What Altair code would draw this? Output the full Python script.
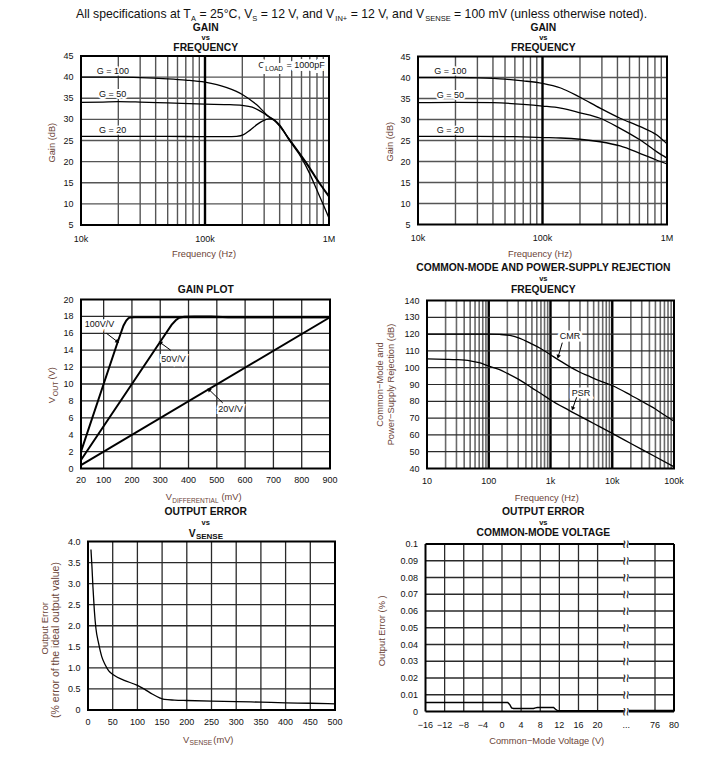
import altair as alt
import pandas as pd

FONT = "Liberation Sans"
M = 8  # page margin
INK = "#111111"
AX_INK = "#6b4438"
GRID = "#555555"
GRID_DARK = "#2a2a2a"

# ---------------- data ----------------
# Gain vs Frequency, C_LOAD = 1000 pF (top-left)
gl_f_g100 = [1e4, 2e4, 3e4, 5e4, 7e4, 1e5, 1.5e5, 2e5, 2.6e5, 3.3e5, 3.6e5, 4e5, 4.8e5, 6e5, 7e5, 8e5, 9e5, 1e6]
gl_db_g100 = [40.0, 40.0, 39.9, 39.6, 39.3, 38.8, 37.5, 35.9, 33.5, 30.6, 29.9, 28.5, 25.3, 21.4, 18.6, 15.9, 13.7, 11.9]
gl_f_g50 = [1e4, 1.5e4, 2e4, 3e4, 5e4, 1e5, 1.5e5, 2e5, 2.4e5, 2.7e5, 3e5, 3.3e5, 3.6e5, 4e5, 4.8e5, 6e5, 7e5, 8e5, 9e5, 1e6]
gl_db_g50 = [34.0, 34.1, 34.2, 34.1, 33.9, 33.6, 33.5, 33.3, 32.9, 32.2, 31.4, 30.5, 29.8, 28.4, 25.1, 21.2, 18.3, 15.6, 13.5, 11.6]
gl_f_g20 = [1e4, 5e4, 1e5, 1.5e5, 1.8e5, 2.05e5, 2.3e5, 2.6e5, 2.9e5, 3.3e5, 3.6e5, 4e5, 4.8e5, 6e5, 7e5, 8e5, 9e5, 1e6]
gl_db_g20 = [26.0, 26.0, 25.9, 25.9, 26.0, 26.4, 27.4, 28.7, 29.6, 30.1, 29.9, 28.7, 25.0, 20.9, 17.1, 13.2, 9.8, 6.6]

# Gain vs Frequency (top-right)
gr_f_g100 = [1e4, 2e4, 3e4, 5e4, 7e4, 1e5, 1.4e5, 2e5, 2.9e5, 4.2e5, 6.1e5, 8.3e5, 1e6]
gr_db_g100 = [40.0, 40.0, 39.9, 39.6, 39.2, 38.6, 37.5, 35.3, 32.7, 30.3, 28.3, 26.3, 24.2]
gr_f_g50 = [1e4, 2e4, 4e4, 7e4, 1e5, 1.4e5, 2e5, 2.9e5, 4.2e5, 6.1e5, 8.3e5, 1e6]
gr_db_g50 = [34.0, 34.1, 34.0, 33.6, 33.2, 32.7, 31.6, 30.3, 27.9, 25.1, 22.3, 20.8]
gr_f_g20 = [1e4, 3e4, 6e4, 1e5, 1.4e5, 2e5, 2.9e5, 4.2e5, 6.1e5, 8.3e5, 1e6]
gr_db_g20 = [26.0, 26.0, 25.9, 25.7, 25.6, 25.3, 24.7, 23.7, 21.9, 20.3, 19.4]

# Gain plot
gp_x_100 = [20, 100, 150, 170, 180, 188, 196, 210, 900]
gp_y_100 = [2.0, 10.0, 15.0, 16.9, 17.5, 17.8, 17.88, 17.9, 17.9]
gp_x_50 = [20, 300, 340, 355, 367, 385, 420, 480, 540, 900]
gp_y_50 = [1.0, 15.0, 17.0, 17.55, 17.85, 17.95, 18.0, 18.0, 17.9, 17.9]
gp_x_20 = [20, 900]
gp_y_20 = [0.4, 17.9]

# Common-mode and power-supply rejection
cmr_f = [10, 20, 50, 100, 150, 220, 320, 470, 680, 1000, 1500, 2000, 3000, 4000, 6000, 1e4, 2e4, 3e4, 5e4, 7e4, 1e5]
cmr_db = [120, 120, 120, 120, 119.8, 119.2, 117.5, 114.6, 111.6, 107.7, 103.6, 100.8, 97.3, 95.3, 92.5, 89.4, 83.6, 80.0, 75.4, 71.8, 68.2]
psr_f = [10, 20, 30, 50, 70, 100, 150, 200, 300, 500, 700, 1000, 2000, 5000, 1e4, 2e4, 5e4, 1e5]
psr_db = [105.2, 105.0, 104.8, 104.1, 103.0, 101.0, 98.8, 96.6, 93.2, 88.0, 84.6, 80.8, 74.6, 66.8, 60.9, 54.9, 47.0, 41.0]

# Output error vs V_SENSE
ev_mv = [6, 8, 10, 12.8, 16, 21.5, 28, 35, 42, 52, 72, 99, 115, 130, 145, 155, 175, 200, 250, 300, 350, 400, 450, 500]
ev_err = [3.81, 3.4, 2.92, 2.37, 1.94, 1.58, 1.26, 1.07, 0.93, 0.83, 0.71, 0.59, 0.49, 0.38, 0.29, 0.25, 0.235, 0.225, 0.21, 0.2, 0.185, 0.17, 0.16, 0.145]

# Output error vs common-mode voltage (axis broken between 20 and 76)
ec_v_a = [-16, 1.2, 1.6, 2.0, 2.4, 6.6, 7.0, 7.4, 10.8, 11.2, 11.6, 20, 45.5]
ec_e_a = [0.0054, 0.0054, 0.0042, 0.0022, 0.0018, 0.0018, 0.0022, 0.0024, 0.0024, 0.0013, 0.0005, 0.0005, 0.0005]
ec_v_b = [50.5, 76, 80]
ec_e_b = [0.0006, 0.0006, 0.0006]

# ticks
freq_ticks = [1e4, 1e5, 1e6]
freq_labels = ["10k", "100k", "1M"]
gain_ticks = [5, 10, 15, 20, 25, 30, 35, 40, 45]
gp_xticks = [20, 100, 200, 300, 400, 500, 600, 700, 800, 900]
gp_yticks = [0, 2, 4, 6, 8, 10, 12, 14, 16, 18, 20]
cm_xticks = [10, 100, 1e3, 1e4, 1e5]
cm_xlabels = ["10", "100", "1k", "10k", "100k"]
cm_yticks = [40, 50, 60, 70, 80, 90, 100, 110, 120, 130, 140]
ev_xticks = [0, 50, 100, 150, 200, 250, 300, 350, 400, 450, 500]
ev_yticks = [0, 0.5, 1.0, 1.5, 2.0, 2.5, 3.0, 3.5, 4.0]
ev_ylabels = ["0", "0.5", "1.0", "1.5", "2.0", "2.5", "3.0", "3.5", "4.0"]
ec_xticks = [-16, -12, -8, -4, 0, 4, 8, 12, 16, 20, 48, 76, 80]
ec_xlabels = ["\u221216", "\u221212", "\u22128", "\u22124", "0", "4", "8", "12", "16", "20", "...", "76", "80"]
ec_yticks = [0, 0.01, 0.02, 0.03, 0.04, 0.05, 0.06, 0.07, 0.08, 0.09, 0.1]
ec_ylabels = ["0", "0.01", "0.02", "0.03", "0.04", "0.05", "0.06", "0.07", "0.08", "0.09", "0.1"]

# header text pieces: (text, is_subscript)
HEADER = [("All specifications at T", False), ("A", True), (" = 25\u00b0C, V", False), ("S", True),
          (" = 12 V, and V", False), ("IN+", True), (" = 12 V, and V", False), ("SENSE", True),
          (" = 100 mV (unless otherwise noted).", False)]

# ---------------- layout (page pixels) ----------------
PANELS = {
    "gl": dict(xtype="log", xdom=[1e4, 1e6], xr=[81, 329], ydom=[5, 45], yr=[225, 56]),
    "gr": dict(xtype="log", xdom=[1e4, 1e6], xr=[418, 667], ydom=[5, 45], yr=[224.5, 56.5]),
    "gp": dict(xtype="linear", xdom=[20, 900], xr=[81, 330], ydom=[0, 20], yr=[468.5, 299.5]),
    "cm": dict(xtype="log", xdom=[10, 1e5], xr=[427, 674], ydom=[40, 140], yr=[468.5, 300.5]),
    "ev": dict(xtype="linear", xdom=[0, 500], xr=[88, 335], ydom=[0, 4], yr=[710, 541.5]),
    "ec": dict(xtype="linear", xdom=[-16, 20, 76, 80], xr=[425.5, 597.6, 655.0, 674], ydom=[0, 0.1], yr=[711.5, 544]),
}

# Arial / Liberation Sans advance widths (1/1000 em) for text layout
AW = {" ": 278, "%": 889, "(": 333, ")": 333, "+": 584, ",": 278, "-": 333, ".": 278, "=": 584,
      "\u00b0": 400, "\u2212": 584}
AW.update({d: 556 for d in "0123456789"})
AW.update(dict(zip("ABCDEFGHIJKLMNOPQRSTUVWXYZ",
                   [667, 667, 722, 722, 667, 611, 778, 722, 278, 500, 667, 556, 833, 722, 778, 667, 778,
                    722, 667, 611, 722, 667, 944, 667, 667, 611])))
AW.update(dict(zip("abcdefghijklmnopqrstuvwxyz",
                   [556, 556, 500, 556, 556, 278, 556, 556, 222, 222, 500, 222, 833, 556, 556, 556, 556,
                    333, 500, 278, 556, 500, 722, 500, 500, 500])))


def tw(s, size):
    return sum(AW.get(c, 556) for c in s) * size / 1000.0


def sx(p):
    d = PANELS[p]
    return alt.Scale(type=d["xtype"], domain=d["xdom"], range=[v - M for v in d["xr"]], nice=False, zero=False)


def sy(p):
    d = PANELS[p]
    return alt.Scale(type="linear", domain=d["ydom"], range=[v - M for v in d["yr"]], nice=False, zero=False)


def ex(p, f="x"):
    return alt.X(f"{f}:Q", scale=sx(p), axis=None)


def ey(p, f="y"):
    return alt.Y(f"{f}:Q", scale=sy(p), axis=None)


layers = []


def vgrid(p, xs, color=GRID, width=1.3):
    d = PANELS[p]
    df = pd.DataFrame({"x": xs, "y0": d["ydom"][0], "y1": d["ydom"][-1]})
    layers.append(alt.Chart(df).mark_rule(color=color, strokeWidth=width).encode(
        x=ex(p), y=ey(p, "y0"), y2="y1:Q"))


def hgrid(p, ys, color=GRID, width=1.3, x0=None, x1=None):
    d = PANELS[p]
    df = pd.DataFrame({"y": ys,
                       "x0": d["xdom"][0] if x0 is None else x0,
                       "x1": d["xdom"][-1] if x1 is None else x1})
    layers.append(alt.Chart(df).mark_rule(color=color, strokeWidth=width).encode(
        y=ey(p), x=ex(p, "x0"), x2="x1:Q"))


def frame(p, width=2.0):
    d = PANELS[p]
    df = pd.DataFrame({"x0": [d["xdom"][0]], "x1": [d["xdom"][-1]],
                       "y0": [d["ydom"][0]], "y1": [d["ydom"][-1]]})
    layers.append(alt.Chart(df).mark_rect(fillOpacity=0, stroke="black", strokeWidth=width).encode(
        x=ex(p, "x0"), x2="x1:Q", y=ey(p, "y0"), y2="y1:Q"))


def curves(p, series, width=1.3, interp="monotone"):
    rows = []
    for name, xs, ys in series:
        for x, y in zip(xs, ys):
            rows.append({"x": x, "y": y, "s": name})
    df = pd.DataFrame(rows)
    layers.append(alt.Chart(df).mark_line(color="black", strokeWidth=width, interpolate=interp).encode(
        x=ex(p), y=ey(p), detail="s:N"))


def xlabels(p, xs, labels, dy=15.5):
    d = PANELS[p]
    df = pd.DataFrame({"x": xs, "y": d["ydom"][0], "t": labels})
    layers.append(alt.Chart(df).mark_text(font=FONT, fontSize=9, color=INK, align="center",
                                          baseline="alphabetic", dy=dy).encode(
        x=ex(p), y=ey(p), text="t:N"))


def ylabels(p, ys, labels, dx=-7.5):
    d = PANELS[p]
    df = pd.DataFrame({"x": d["xdom"][0], "y": ys, "t": labels})
    layers.append(alt.Chart(df).mark_text(font=FONT, fontSize=9, color=INK, align="right",
                                          baseline="middle", dx=dx).encode(
        x=ex(p), y=ey(p), text="t:N"))


def note(p, x, y, text, align="center", size=9, halo=0, baseline="alphabetic", angle=0):
    df = pd.DataFrame({"x": x if isinstance(x, list) else [x],
                       "y": y if isinstance(y, list) else [y]})
    df["t"] = text
    base = alt.Chart(df).encode(x=ex(p), y=ey(p), text="t:N")
    kw = dict(font=FONT, fontSize=size, align=align, baseline=baseline)
    if angle:
        kw["angle"] = angle
    if halo:
        layers.append(base.mark_text(color="white", stroke="white", strokeWidth=halo, **kw))
    layers.append(base.mark_text(color=INK, **kw))


def arrow(p, x0, y0, x1, y1, angle):
    df = pd.DataFrame({"xa": [x0], "ya": [y0], "xb": [x1], "yb": [y1]})
    layers.append(alt.Chart(df).mark_rule(color="black", strokeWidth=1).encode(
        x=ex(p, "xa"), y=ey(p, "ya"), x2="xb:Q", y2="yb:Q"))
    layers.append(alt.Chart(df).mark_point(shape="triangle-up", filled=True, size=20, color="black",
                                           opacity=1, angle=angle).encode(
        x=ex(p, "xb"), y=ey(p, "yb")))


def ptext(text, x, y, size=9, bold=False, align="center", baseline="alphabetic", angle=0,
          color=INK, halo=0):
    df = pd.DataFrame({"t": [text]})
    kw = dict(font=FONT, fontSize=size, align=align, baseline=baseline,
              fontWeight="bold" if bold else "normal")
    if angle:
        kw["angle"] = angle
    enc = dict(x=alt.value(x - M), y=alt.value(y - M), text="t:N")
    if halo:
        layers.append(alt.Chart(df).mark_text(color="white", stroke="white", strokeWidth=halo, **kw).encode(**enc))
    layers.append(alt.Chart(df).mark_text(color=color, **kw).encode(**enc))


def log_minor(decs):
    return [k * 10 ** e for e in decs for k in range(2, 10)]


# ---------------- panel: gain vs frequency ----------------
for p in ["gl", "gr"]:
    vgrid(p, log_minor([4, 5]), GRID, 1.4)
    hgrid(p, [10, 15, 20, 25, 30, 35, 40], GRID, 1.3)
    vgrid(p, [1e5], "black", 2.4)

note("gl", 1.81e4, 40.74, "G = 100", halo=3)
note("gl", 1.8e4, 35.2, "G = 50", halo=4)
note("gl", 1.8e4, 26.85, "G = 20", halo=3)
ptext("C", 258.3, 68.3, align="left", halo=6)
ptext("LOAD", 265.3, 70.7, size=6.5, align="left", halo=6)
ptext("= 1000pF", 286.5, 68.3, align="left", halo=6)
curves("gl", [("G100", gl_f_g100, gl_db_g100), ("G50", gl_f_g50, gl_db_g50), ("G20", gl_f_g20, gl_db_g20)])
frame("gl")
xlabels("gl", freq_ticks, freq_labels, dy=16.5)
ylabels("gl", gain_ticks, [str(v) for v in gain_ticks])

note("gr", 1.82e4, 40.82, "G = 100", halo=3)
note("gr", 1.82e4, 35.02, "G = 50", halo=4)
note("gr", 1.82e4, 26.9, "G = 20", halo=3)
curves("gr", [("G100", gr_f_g100, gr_db_g100), ("G50", gr_f_g50, gr_db_g50), ("G20", gr_f_g20, gr_db_g20)])
frame("gr")
xlabels("gr", freq_ticks, freq_labels, dy=16.5)
ylabels("gr", gain_ticks, [str(v) for v in gain_ticks])

# ---------------- panel: gain plot ----------------
vgrid("gp", [100, 200, 300, 400, 500, 600, 700, 800], GRID_DARK, 1.3)
hgrid("gp", [2, 4, 6, 8, 10, 12, 14, 16, 18], GRID_DARK, 1.3)
note("gp", 33, 16.78, "100V/V", align="left", halo=4)
note("gp", 304, 12.57, "50V/V", align="left", halo=4)
note("gp", 505, 6.72, "20V/V", align="left", halo=4)
curves("gp", [("100", gp_x_100, gp_y_100), ("50", gp_x_50, gp_y_50), ("20", gp_x_20, gp_y_20)],
       width=2.0, interp="linear")
arrow("gp", 110, 16.0, 149, 15.0, 127)
arrow("gp", 337, 14.0, 300, 14.9, 305)
arrow("gp", 521, 7.76, 472, 9.35, 314)
frame("gp")
xlabels("gp", gp_xticks, [str(v) for v in gp_xticks], dy=14.5)
ylabels("gp", gp_yticks, [str(v) for v in gp_yticks])

# ---------------- panel: CMR / PSR ----------------
vgrid("cm", log_minor([1, 2, 3, 4]), "#6a6a6a", 1.6)
vgrid("cm", [100, 1e3, 1e4], "black", 2.4)
hgrid("cm", [50, 60, 70, 80, 90, 100, 110, 120, 130], GRID_DARK, 1.2)
note("cm", 2070, 117.26, "CMR", halo=5)
note("cm", 3120, 83.3, "PSR", halo=5)
curves("cm", [("CMR", cmr_f, cmr_db), ("PSR", psr_f, psr_db)])
arrow("cm", 1553, 114.9, 1330, 106.5, 197)
arrow("cm", 2655, 82.4, 2280, 75.6, 200)
frame("cm")
xlabels("cm", cm_xticks, cm_xlabels, dy=15)
ylabels("cm", cm_yticks, [str(v) for v in cm_yticks])

# ---------------- panel: output error vs V_SENSE ----------------
vgrid("ev", [50, 100, 150, 200, 250, 300, 350, 400, 450], GRID_DARK, 1.3)
hgrid("ev", [0.5, 1.0, 1.5, 2.0, 2.5, 3.0, 3.5], GRID_DARK, 1.3)
curves("ev", [("err", ev_mv, ev_err)])
frame("ev")
xlabels("ev", ev_xticks, [str(v) for v in ev_xticks], dy=15)
ylabels("ev", ev_yticks, ev_ylabels)

# ---------------- panel: output error vs common-mode voltage ----------------
vgrid("ec", [-12, -8, -4, 0, 4, 8, 12, 16, 20, 76], GRID_DARK, 1.3)
hgrid("ec", [0.01, 0.02, 0.03, 0.04, 0.05, 0.06, 0.07, 0.08, 0.09], GRID_DARK, 1.3, x0=-16, x1=45.5)
hgrid("ec", [0.01, 0.02, 0.03, 0.04, 0.05, 0.06, 0.07, 0.08, 0.09], GRID_DARK, 1.3, x0=50.5, x1=80)
curves("ec", [("a", ec_v_a, ec_e_a), ("b", ec_v_b, ec_e_b)], width=1.4, interp="linear")
vgrid("ec", [-16, 80], "black", 2.0)
hgrid("ec", [0, 0.1], "black", 2.0, x0=-16, x1=45.5)
hgrid("ec", [0, 0.1], "black", 2.0, x0=50.5, x1=80)
note("ec", [48] * 11, ec_yticks, "\u2248", size=15, baseline="middle", angle=90)
xlabels("ec", ec_xticks, ec_xlabels, dy=16.5)
ylabels("ec", ec_yticks, ec_ylabels)

# ---------------- header (laid out piece by piece) ----------------
HS, SS = 12.25, 7.5
hx = 76.0
for txt, sub in HEADER:
    size = SS if sub else HS
    lead = len(txt) - len(txt.lstrip(" "))
    hx += tw(" " * lead, size)
    body = txt.lstrip(" ")
    ptext(body, hx, 20.8 if sub else 18.3, size=size, align="left")
    hx += tw(body, size)

# ---------------- panel titles ----------------
TS, VS = 10.3, 7.5
for cx in (205.7, 543.3):
    ptext("GAIN", cx, 30.9, size=TS, bold=True)
    ptext("vs", cx, 40.0, size=VS, bold=True)
    ptext("FREQUENCY", cx, 50.9, size=TS, bold=True)
ptext("GAIN PLOT", 205.7, 292.7, size=TS, bold=True)
ptext("COMMON-MODE AND POWER-SUPPLY REJECTION", 543.3, 271.3, size=TS, bold=True)
ptext("vs", 543.3, 281.0, size=VS, bold=True)
ptext("FREQUENCY", 543.3, 292.9, size=TS, bold=True)
ptext("OUTPUT ERROR", 205.7, 514.6, size=TS, bold=True)
ptext("vs", 205.7, 525.3, size=VS, bold=True)
ptext("V", 195.7, 537.0, size=TS, bold=True, align="right")
ptext("SENSE", 195.9, 538.5, size=8, bold=True, align="left")
ptext("OUTPUT ERROR", 543.3, 514.6, size=TS, bold=True)
ptext("vs", 543.3, 525.3, size=VS, bold=True)
ptext("COMMON-MODE VOLTAGE", 543.3, 536.0, size=TS, bold=True)

# ---------------- axis titles ----------------
AS = 9.3
ptext("Frequency (Hz)", 204.0, 257.3, size=AS, color=AX_INK)
ptext("Gain (dB)", 51.5, 142.7, size=AS, angle=270, baseline="middle", color=AX_INK)
ptext("Frequency (Hz)", 540.0, 256.7, size=AS, color=AX_INK)
ptext("Gain (dB)", 389.7, 141.7, size=AS, angle=270, baseline="middle", color=AX_INK)

ptext("V", 172.0, 500.0, size=AS, align="right", color=AX_INK)
ptext("DIFFERENTIAL", 172.3, 502.7, size=6.5, align="left", color=AX_INK)
ptext("(mV)", 221.5, 500.0, size=AS, align="left", color=AX_INK)
ptext("V", 55.0, 403.3, size=AS, align="left", angle=270, color=AX_INK)
ptext("OUT", 57.5, 396.3, size=7, align="left", angle=270, color=AX_INK)
ptext("(V)", 55.0, 379.5, size=AS, align="left", angle=270, color=AX_INK)

ptext("Frequency (Hz)", 546.8, 500.7, size=AS, color=AX_INK)
ptext("Common\u2212Mode and", 379.5, 384.5, size=AS, angle=270, baseline="middle", color=AX_INK)
ptext("Power\u2212Supply Rejection (dB)", 391.3, 384.5, size=AS, angle=270, baseline="middle", color=AX_INK)

ptext("V", 189.3, 742.7, size=AS, align="right", color=AX_INK)
ptext("SENSE", 189.6, 745.0, size=6.7, align="left", color=AX_INK)
ptext("(mV)", 213.3, 742.7, size=AS, align="left", color=AX_INK)
ptext("Output Error", 45.0, 628.3, size=9.5, angle=270, baseline="middle", color=AX_INK)
ptext("(% error of the ideal output value)", 56.0, 640.0, size=10.5, angle=270, baseline="middle", color=AX_INK)

ptext("Common\u2212Mode Voltage (V)", 546.7, 744.3, size=AS, color=AX_INK)
ptext("Output Error (% )", 382.0, 630.8, size=AS, angle=270, baseline="middle", color=AX_INK)

chart = alt.layer(*layers).resolve_scale(x="independent", y="independent").properties(
    width=712, height=742, autosize="none", padding=0, background="white"
).configure_view(stroke="transparent")

chart.save("out.html", embed_options={"renderer": "svg", "actions": False})
